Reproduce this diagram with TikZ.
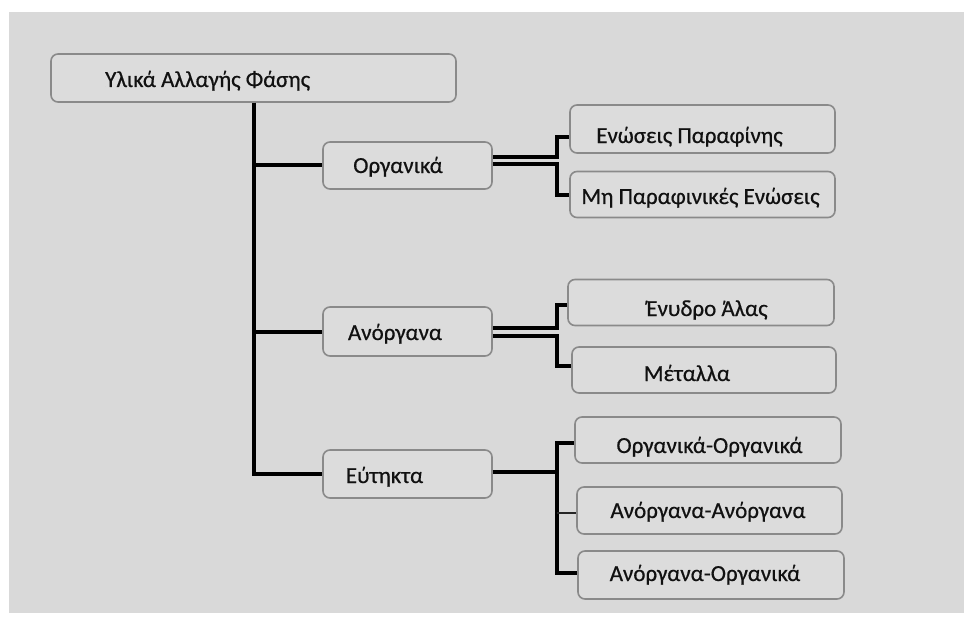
\documentclass[tikz,border=0pt]{standalone}
\usepackage{fontspec}
\setmainfont[FakeBold=0.6]{Carlito}
\usetikzlibrary{calc}
\definecolor{panel}{HTML}{D9D9D9}
\definecolor{boxfill}{HTML}{DCDCDC}
\definecolor{boxline}{HTML}{8A8A8A}
\definecolor{ink}{HTML}{111111}
\tikzset{
  box/.style={draw=boxline, fill=boxfill, line width=1.6pt, rounded corners=7pt, inner sep=0pt},
  lbl/.style={font=\fontsize{23}{26}\selectfont, text=ink, anchor=base, inner sep=0pt},
  conn/.style={line width=4pt, draw=black},
  connthin/.style={line width=2.5pt, draw=black!85},
}
\begin{document}
\begin{tikzpicture}[x=1pt,y=-1pt]
\useasboundingbox (0,0) rectangle (964,623);
\fill[white] (0,0) rectangle (964,623);
\fill[panel] (9,12) rectangle (964,613);
% boxes
\node[box, minimum width=405pt, minimum height=48pt] (root) at (253.5,78) {};
\node[box, minimum width=169pt, minimum height=47pt] (org) at (407.5,165.5) {};
\node[box, minimum width=169pt, minimum height=49pt] (ano) at (407.5,331.5) {};
\node[box, minimum width=169pt, minimum height=48pt] (eut) at (407.5,474) {};
\node[box, minimum width=265pt, minimum height=48pt] (par) at (702.5,129) {};
\node[box, minimum width=265pt, minimum height=46pt] (mpar) at (702.5,194.5) {};
\node[box, minimum width=266pt, minimum height=46pt] (eny) at (701,302.5) {};
\node[box, minimum width=264pt, minimum height=46pt] (met) at (704,370) {};
\node[box, minimum width=266pt, minimum height=46pt] (oo) at (708,440) {};
\node[box, minimum width=265pt, minimum height=47pt] (aa) at (709.5,510.5) {};
\node[box, minimum width=266pt, minimum height=48pt] (ao) at (711,575) {};
% labels
\node[lbl, anchor=base west] (troot) at (105,87) {Υλικά Αλλαγής Φάσης};
\node[lbl] (torg) at (398,173) {Οργανικά};
\node[lbl] (tano) at (395,340) {Ανόργανα};
\node[lbl] (teut) at (384.5,483) {Εύτηκτα};
\node[lbl] (tpar) at (689.5,143) {Ενώσεις Παραφίνης};
\node[lbl] (tmpar) at (700.5,204) {Μη Παραφινικές Ενώσεις};
\node[lbl] (teny) at (707,316) {Ένυδρο Άλας};
\node[lbl] (tmet) at (687,381) {Μέταλλα};
\node[lbl] (too) at (709.5,453) {Οργανικά-Οργανικά};
\node[lbl] (taa) at (708,518) {Ανόργανα-Ανόργανα};
\node[lbl] (tao) at (705,581) {Ανόργανα-Οργανικά};
% bracket x position
\coordinate (bx) at (557,0);
% trunk
\draw[conn] (root.south) |- (eut.west);
\draw[conn] (root.south) |- (org.west);
\draw[conn] (root.south) |- (ano.west);
% Organic double branch
\draw[conn] ([yshift=8.5pt]org.east) -- ([yshift=8.5pt]org.east -| bx) |- ([yshift=-8pt]par.west);
\draw[conn] ([yshift=1pt]org.east) -- ([yshift=1pt]org.east -| bx) |- (mpar.west);
% Inorganic double branch
\draw[conn] ([yshift=3.5pt]ano.east) -- ([yshift=3.5pt]ano.east -| bx) |- ([yshift=-2.5pt]eny.west);
\draw[conn] ([yshift=-4pt]ano.east) -- ([yshift=-4pt]ano.east -| bx) |- ([yshift=4pt]met.west);
% Eutectic branch
\draw[conn] ([yshift=2pt]eut.east) -- ([yshift=2pt]eut.east -| bx);
\draw[conn] ([yshift=-3pt]oo.west) -| ([yshift=2pt]ao.west -| bx) -- ([yshift=2pt]ao.west);
\draw[connthin] ([yshift=-2.5pt]aa.west -| bx) -- ([yshift=-2.5pt]aa.west);
\end{tikzpicture}
\end{document}
